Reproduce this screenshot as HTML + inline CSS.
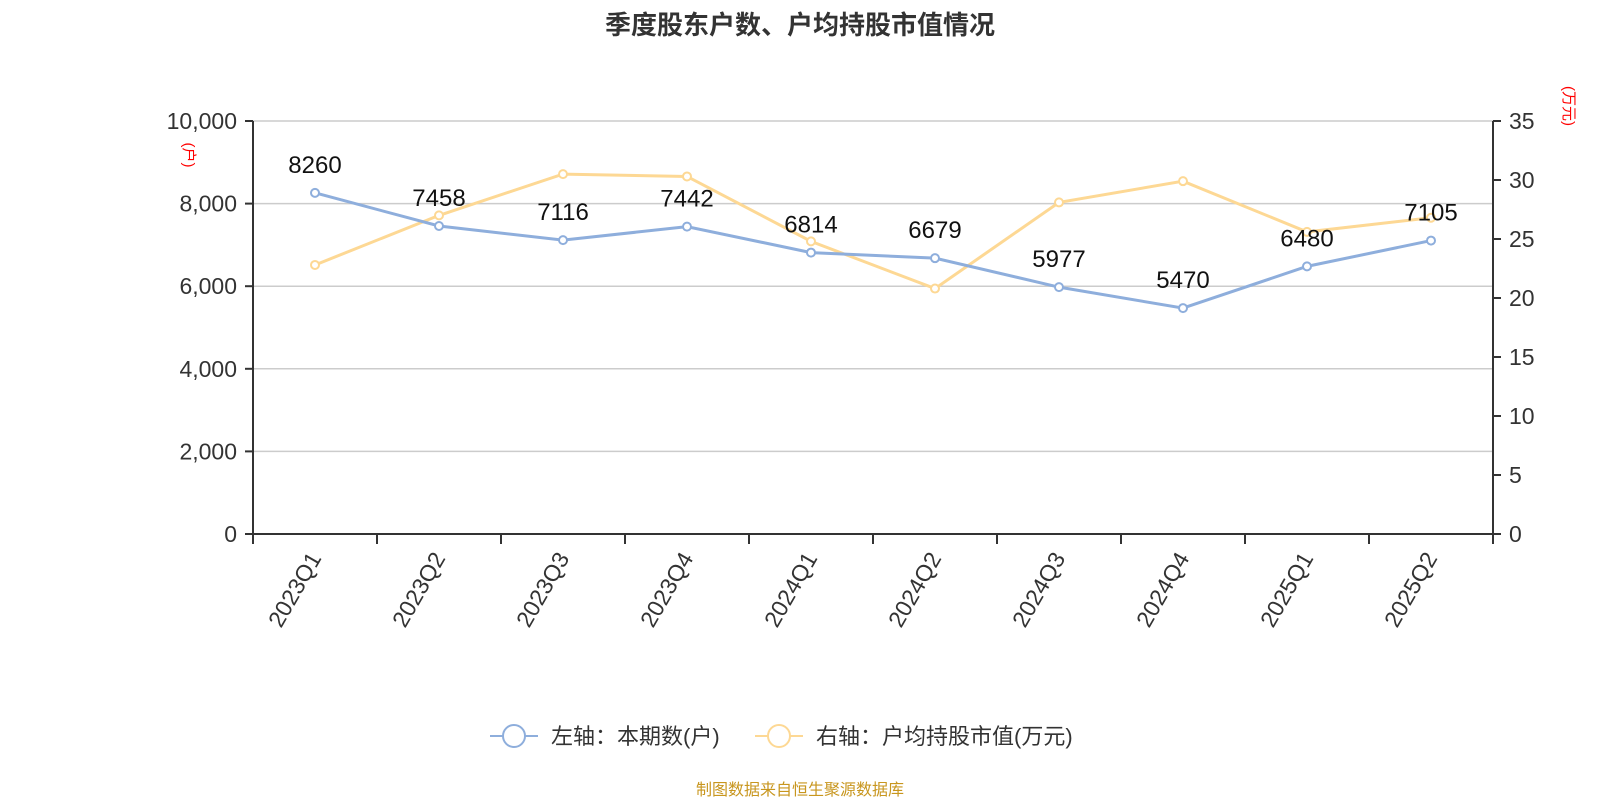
<!DOCTYPE html>
<html><head><meta charset="utf-8"><style>
body{margin:0;background:#fff;}
svg{display:block;font-family:"Liberation Sans","Noto Sans CJK SC",sans-serif;}
</style></head><body>
<svg id="c" width="1600" height="800">
<text x="800" y="34" text-anchor="middle" font-size="26" font-weight="bold" fill="#333">季度股东户数、户均持股市值情况</text>
<g id="grid"></g><g id="axes"></g><g id="series"></g>
<g>
<g>
<line x1="490" y1="736" x2="538" y2="736" stroke="#8eaedc" stroke-width="2"/>
<circle cx="514" cy="736" r="11" fill="#fff" stroke="#8eaedc" stroke-width="2"/>
<text x="551" y="744" font-size="22" fill="#333">左轴：本期数(户)</text></g>
<g>
<line x1="755" y1="736" x2="803" y2="736" stroke="#fdd894" stroke-width="2"/>
<circle cx="779" cy="736" r="11" fill="#fff" stroke="#fdd894" stroke-width="2"/>
<text x="816" y="744" font-size="22" fill="#333">右轴：户均持股市值(万元)</text></g>
</g>
<text x="800" y="795" text-anchor="middle" font-size="16" fill="#c8961e">制图数据来自恒生聚源数据库</text>
</svg>
<script>
const categories=["2023Q1","2023Q2","2023Q3","2023Q4","2024Q1","2024Q2","2024Q3","2024Q4","2025Q1","2025Q2"];
const holders=[8260,7458,7116,7442,6814,6679,5977,5470,6480,7105];
const avgValue=[22.8,27.0,30.5,30.3,24.8,20.8,28.1,29.9,25.6,26.8];
const leftTicks=[0,2000,4000,6000,8000,10000];
const rightTicks=[0,5,10,15,20,25,30,35];
const NS="http://www.w3.org/2000/svg";
const X0=253,X1=1493,Y0=534,Y1=121;
const bw=(X1-X0)/categories.length;
const xs=i=>X0+bw*(i+0.5);
const yl=v=>Y0-(v/10000)*(Y0-Y1);
const yr=v=>Y0-(v/35)*(Y0-Y1);
function mk(p,t,a){const e=document.createElementNS(NS,t);for(const k in a)e.setAttribute(k,a[k]);p.appendChild(e);return e;}
const grid=document.getElementById('grid'),axes=document.getElementById('axes'),ser=document.getElementById('series');
leftTicks.forEach(v=>{
 if(v>0){const g=mk(grid,'line',{x1:X0,x2:X1,y1:yl(v),y2:yl(v),stroke:'#ccc','stroke-width':1.5});
 
 }
 mk(axes,'line',{x1:X0-8,x2:X0,y1:yl(v),y2:yl(v),stroke:'#333','stroke-width':2});
 const t=mk(axes,'text',{x:X0-16,y:yl(v)+8,'text-anchor':'end','font-size':23,fill:'#333'});
 t.textContent=v.toLocaleString('en-US');
 
 
});
rightTicks.forEach(v=>{
 mk(axes,'line',{x1:X1,x2:X1+8,y1:yr(v),y2:yr(v),stroke:'#333','stroke-width':2});
 const t=mk(axes,'text',{x:X1+16,y:yr(v)+8,'font-size':23,fill:'#333'});
 t.textContent=v;
 
 
});
mk(axes,'line',{x1:X0,x2:X0,y1:Y1,y2:Y0,stroke:'#333','stroke-width':2});
mk(axes,'line',{x1:X1,x2:X1,y1:Y1,y2:Y0+10,stroke:'#333','stroke-width':2});
mk(axes,'line',{x1:X0,x2:X1,y1:Y0,y2:Y0,stroke:'#333','stroke-width':2});
for(let i=0;i<=categories.length;i++)mk(axes,'line',{x1:X0+bw*i,x2:X0+bw*i,y1:Y0,y2:Y0+10,stroke:'#333','stroke-width':2});
categories.forEach((c,i)=>{
 const x=xs(i),y=Y0+20;
 const t=mk(axes,'text',{x:x,y:y,'text-anchor':'end','font-size':23,fill:'#333',transform:`rotate(-60 ${x} ${y})`,dy:'0.35em'});
 t.textContent=c;
 
 
});
let t=mk(axes,'text',{x:0,y:0,'font-size':15,fill:'red',transform:`translate(184,155) rotate(90)`,'text-anchor':'middle'});
t.textContent='(户)';


t=mk(axes,'text',{x:0,y:0,'font-size':15,fill:'red',transform:`translate(1564,106) rotate(90)`,'text-anchor':'middle'});
t.textContent='(万元)';


function line(vals,yf,color,name){
 const p=mk(ser,'polyline',{points:vals.map((v,i)=>xs(i)+','+yf(v)).join(' '),fill:'none',stroke:color,'stroke-width':3});
 
 
 vals.forEach((v,i)=>{const c=mk(ser,'circle',{cx:xs(i),cy:yf(v),r:4,fill:'#fff',stroke:color,'stroke-width':2});
 
 });
}
line(avgValue,yr,'#fdd894','avg-value');
line(holders,yl,'#8eaedc','holders');
holders.forEach((v,i)=>{const t=mk(ser,'text',{x:xs(i),y:yl(v)-20,'text-anchor':'middle','font-size':24,fill:'#111'});
 t.textContent=v;
 
 });
</script>
</body></html>
